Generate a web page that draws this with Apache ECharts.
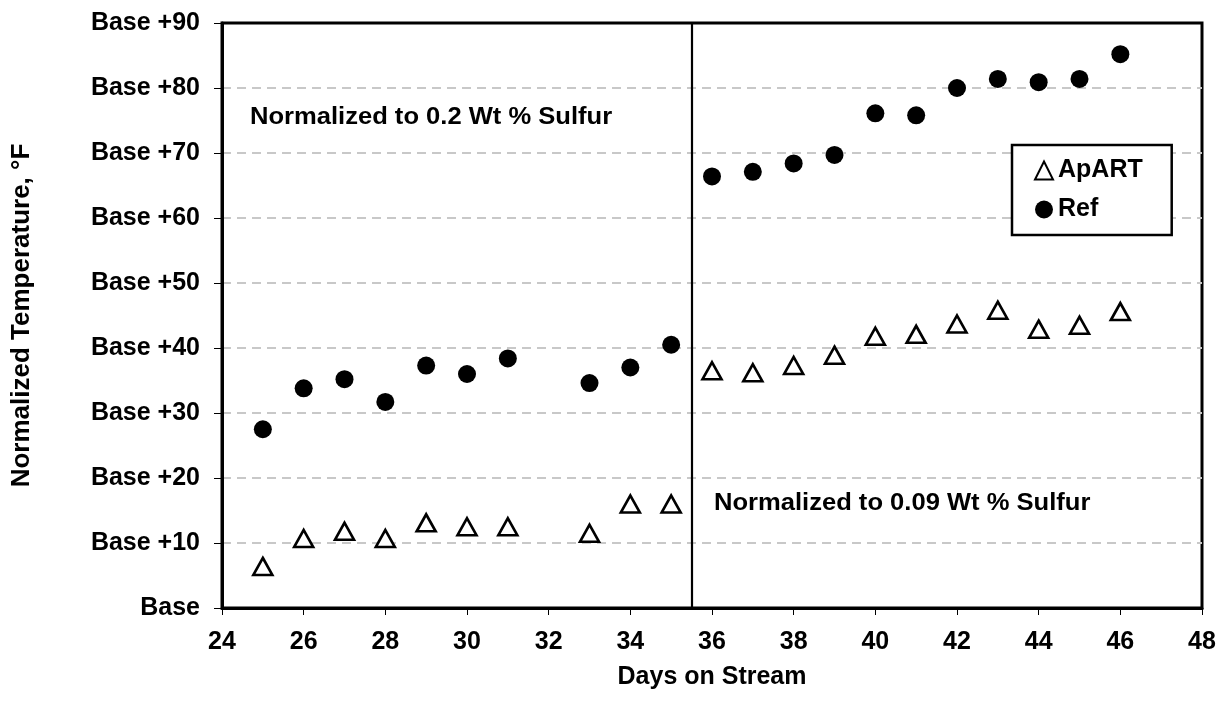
<!DOCTYPE html>
<html>
<head>
<meta charset="utf-8">
<script src="https://cdn.jsdelivr.net/npm/echarts@6/dist/echarts.min.js"></script>
<style>html,body{margin:0;padding:0;background:#fff}#c{width:1226px;height:715px}</style>
</head>
<body>
<div id="c"></div>
<script>
// Data
const apartDays = [25,26,27,28,29,30,31,33,34,35,36,37,38,39,40,41,42,43,44,45,46];
const apartValues = [6.4,10.7,11.8,10.7,13.1,12.5,12.5,11.5,16.0,16.0,36.5,36.2,37.3,38.9,41.8,42.1,43.7,45.8,42.9,43.5,45.6];
const refDays = [25,26,27,28,29,30,31,33,34,35,36,37,38,39,40,41,42,43,44,45,46];
const refValues = [27.5,33.8,35.2,31.7,37.3,36.0,38.4,34.6,37.0,40.5,66.4,67.1,68.4,69.7,76.1,75.8,80.0,81.4,80.9,81.4,85.2];
const xTicks = [24,26,28,30,32,34,36,38,40,42,44,46,48];
const yTickLabels = ['Base','Base +10','Base +20','Base +30','Base +40','Base +50','Base +60','Base +70','Base +80','Base +90'];
const switchDay = 35.5;
const seriesNames = ['ApART','Ref'];
const note1 = 'Normalized to 0.2 Wt % Sulfur';
const note2 = 'Normalized to 0.09 Wt % Sulfur';

const FONT = '"Liberation Sans", Arial, sans-serif';
const chart = echarts.init(document.getElementById('c'), null, {renderer:'canvas'});
chart.setOption({
  animation: false,
  backgroundColor: '#fff',
  grid: {left: 222, right: 24, top: 23, bottom: 107, show: true, borderColor: '#000', borderWidth: 3, containLabel: false},
  xAxis: {
    type: 'value', min: 24, max: 48, interval: 2,
    name: 'Days on Stream', nameLocation: 'middle', nameGap: 57,
    nameTextStyle: {fontFamily: FONT, fontWeight: 'bold', fontSize: 25, color: '#000'},
    axisLine: {show: true, onZero: false, lineStyle: {color: '#000', width: 3}},
    axisTick: {show: true, inside: false, length: 7, lineStyle: {color: '#000', width: 1}},
    axisLabel: {fontFamily: FONT, fontWeight: 'bold', fontSize: 25, color: '#000', margin: 22,
      formatter: v => xTicks.includes(v) ? String(v) : ''},
    splitLine: {show: false}
  },
  yAxis: {
    type: 'value', min: 0, max: 90, interval: 10,
    name: 'Normalized Temperature, \u00B0F', nameLocation: 'middle', nameGap: 187, nameRotate: 90,
    nameTextStyle: {fontFamily: FONT, fontWeight: 'bold', fontSize: 26, color: '#000'},
    axisLine: {show: true, lineStyle: {color: '#000', width: 3}},
    axisTick: {show: true, inside: false, length: 8, lineStyle: {color: '#000', width: 1}},
    axisLabel: {fontFamily: FONT, fontWeight: 'bold', fontSize: 25, color: '#000', margin: 22,
      formatter: v => yTickLabels[Math.round(v/10)]},
    splitLine: {show: true, showMinLine: false, showMaxLine: false, lineStyle: {color: '#c8c8c8', width: 2, type: [9,6]}}
  },
  legend: {
    orient: 'vertical', left: 1012, top: 145,
    data: seriesNames,
    backgroundColor: '#fff', borderColor: '#000', borderWidth: 2.5,
    padding: [12, 29, 12, 22], itemGap: 12, itemWidth: 18, itemHeight: 18,
    textStyle: {fontFamily: FONT, fontWeight: 'bold', fontSize: 25, lineHeight: 27, color: '#000'}
  },
  series: [
    {
      name: seriesNames[0], type: 'scatter',
      data: apartDays.map((d,i) => [d, apartValues[i]]),
      symbol: 'triangle', symbolSize: [19, 17],
      itemStyle: {color: '#fff', borderColor: '#000', borderWidth: 2.6, opacity: 1},
      z: 3,
      markLine: {
        silent: true, symbol: ['none','none'], label: {show: false},
        lineStyle: {color: '#000', width: 2.2, type: 'solid'},
        data: [{xAxis: switchDay}]
      }
    },
    {
      name: seriesNames[1], type: 'scatter',
      data: refDays.map((d,i) => [d, refValues[i]]),
      symbol: 'circle', symbolSize: 18,
      itemStyle: {color: '#000', opacity: 1},
      z: 3
    }
  ],
  graphic: [
    {type: 'text', x: 250, y: 117, scaleX: 1.065, z: 10,
      style: {text: note1, font: 'bold 24px ' + FONT, fill: '#000', verticalAlign: 'middle'}},
    {type: 'text', x: 714, y: 503, scaleX: 1.065, z: 10,
      style: {text: note2, font: 'bold 24px ' + FONT, fill: '#000', verticalAlign: 'middle'}}
  ]
});
</script>
</body>
</html>
